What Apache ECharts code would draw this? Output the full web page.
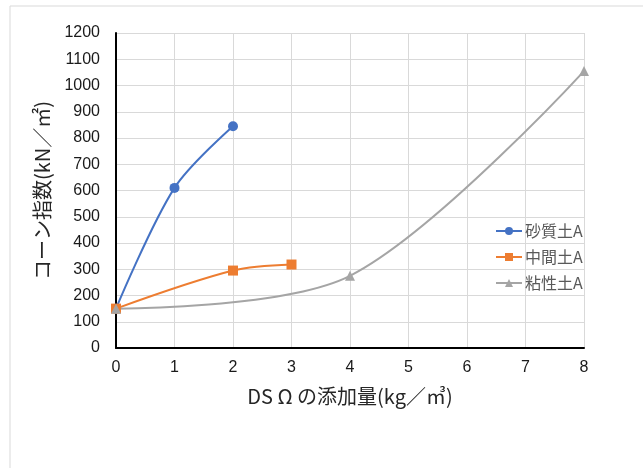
<!DOCTYPE html>
<html>
<head>
<meta charset="utf-8">
<script src="https://cdn.jsdelivr.net/npm/echarts@6/dist/echarts.min.js"></script>
<style>
  html, body { margin: 0; padding: 0; background: #fff; }
  #chart { width: 643px; height: 468px; }
</style>
</head>
<body>
<div id="chart"></div>
<script>
// Cone index vs. DSΩ dosage for three soil types
const seriesNames = ['砂質土A', '中間土A', '粘性土A'];
const sandX = [0, 1, 2];
const sandY = [150, 610, 845];
const midX = [0, 2, 3];
const midY = [150, 295, 318];
const clayX = [0, 4, 8];
const clayY = [150, 275, 1055];
const colors = ['#4472C4', '#ED7D31', '#A5A5A5'];
const symbols = ['circle', 'rect', 'triangle'];

const pairs = (xs, ys) => xs.map((x, i) => [x, ys[i]]);
const dataSets = [pairs(sandX, sandY), pairs(midX, midY), pairs(clayX, clayY)];

const cjk = '"Noto Sans CJK JP", sans-serif';
const num = '"Liberation Sans", Arial, sans-serif';

const chart = echarts.init(document.getElementById('chart'), null, { renderer: 'canvas' });
chart.setOption({
  backgroundColor: '#fff',
  animation: false,
  graphic: [{
    type: 'rect',
    shape: { x: 10, y: 6, width: 660, height: 500 },
    style: { fill: 'none', stroke: '#d9d9d9', lineWidth: 1 },
    z: -1
  }],
  grid: { left: 116, right: 59, top: 33, bottom: 120 },
  xAxis: {
    type: 'value', min: 0, max: 8, interval: 1,
    name: 'DS Ω の添加量(kg／㎥)',
    nameLocation: 'middle', nameGap: 38,
    nameTextStyle: { fontSize: 20, color: '#262626', fontFamily: cjk },
    axisLine: { show: true, lineStyle: { color: '#000', width: 2 } },
    axisTick: { show: false },
    axisLabel: { fontSize: 16, color: '#1a1a1a', margin: 12, fontFamily: num },
    splitLine: { show: true, lineStyle: { color: '#d9d9d9', width: 1 } }
  },
  yAxis: {
    type: 'value', min: 0, max: 1200, interval: 100,
    name: 'コーン指数(kN／㎡)',
    nameLocation: 'middle', nameGap: 64,
    nameTextStyle: { fontSize: 20, color: '#262626', fontFamily: cjk },
    axisLine: { show: true, lineStyle: { color: '#000', width: 2 } },
    axisTick: { show: false },
    axisLabel: { fontSize: 16, color: '#1a1a1a', margin: 16, fontFamily: num,
                 formatter: v => String(v) },
    splitLine: { show: true, lineStyle: { color: '#d9d9d9', width: 1 } }
  },
  legend: {
    orient: 'vertical', left: 490, top: 218,
    itemWidth: 26, itemHeight: 10, itemGap: 10,
    textStyle: { fontSize: 16, color: '#595959', fontFamily: cjk, padding: [0, 0, 0, -2] },
    data: seriesNames
  },
  series: seriesNames.map((name, i) => ({
    name: name,
    type: 'line',
    smooth: 0.32,
    data: dataSets[i],
    symbol: symbols[i],
    symbolSize: 10,
    lineStyle: { color: colors[i], width: 2 },
    itemStyle: { color: colors[i] }
  }))
});
</script>
</body>
</html>
